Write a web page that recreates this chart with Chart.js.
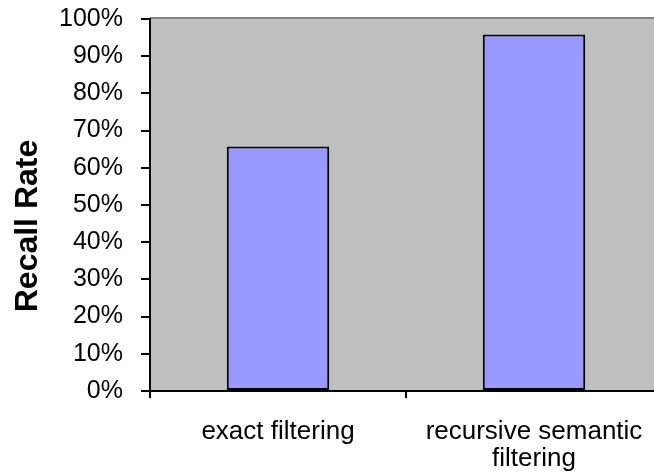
<!DOCTYPE html>
<html>
<head>
<meta charset="utf-8">
<script src="https://cdn.jsdelivr.net/npm/chart.js@4/dist/chart.umd.min.js"></script>
<style>
  html, body { margin: 0; padding: 0; background: #ffffff; overflow: hidden; }
  #wrap { position: absolute; left: 0; top: 0; width: 654px; height: 473px; overflow: hidden; }
  #c { display: block; }
</style>
</head>
<body>
<div id="wrap"><canvas id="c" width="670" height="473"></canvas></div>
<script>
// ---- data ----
const categories = [["exact filtering"], ["recursive semantic", "filtering"]];
const recallRate = [65.7, 95.8];
const yTicks = [0, 10, 20, 30, 40, 50, 60, 70, 80, 90, 100];
const yTitle = "Recall Rate";

const FONT = '"Liberation Sans", Arial, sans-serif';

const plotBg = {
  id: 'plotBg',
  beforeDraw(chart) {
    const { ctx, chartArea: a } = chart;
    ctx.save();
    ctx.fillStyle = '#c0c0c0';
    ctx.fillRect(a.left, a.top, a.right - a.left, a.bottom - a.top);
    ctx.strokeStyle = '#868686';
    ctx.lineWidth = 2;
    ctx.beginPath();
    ctx.moveTo(a.left, a.top - 1);
    ctx.lineTo(a.right, a.top - 1);
    ctx.stroke();
    ctx.restore();
  }
};

const yTitlePlugin = {
  id: 'yTitlePlugin',
  afterDraw(chart) {
    const { ctx } = chart;
    ctx.save();
    ctx.translate(37, 226);
    ctx.rotate(-Math.PI / 2);
    ctx.font = 'bold 32px ' + FONT;
    ctx.fillStyle = '#000000';
    ctx.textAlign = 'center';
    ctx.textBaseline = 'alphabetic';
    ctx.fillText(yTitle, 0, 0);
    ctx.restore();
  }
};

new Chart(document.getElementById('c'), {
  type: 'bar',
  data: {
    labels: categories,
    datasets: [{
      data: recallRate,
      backgroundColor: '#9999ff',
      borderColor: '#000000',
      borderWidth: 2,
      borderSkipped: false,
      categoryPercentage: 1.0,
      barPercentage: 0.4
    }]
  },
  options: {
    responsive: false,
    animation: false,
    devicePixelRatio: 1,
    layout: { padding: { top: 19, right: 8, left: 0, bottom: 0 } },
    plugins: { legend: { display: false }, tooltip: { enabled: false } },
    scales: {
      x: {
        offset: true,
        grid: { offset: true, drawOnChartArea: false, drawTicks: true, tickLength: 7, color: '#000000', lineWidth: 2 },
        border: { display: true, color: '#000000', width: 2 },
        ticks: {
          font: { family: FONT, size: 26, lineHeight: 1.02 },
          color: '#000000',
          padding: 21,
          maxRotation: 0,
          autoSkip: false
        },
        afterFit(scale) { scale.height = 82; scale.paddingLeft = 0; scale.paddingRight = 0; }
      },
      y: {
        min: 0,
        max: 100,
        afterBuildTicks(scale) { scale.ticks = yTicks.map(v => ({ value: v })); },
        grid: { drawOnChartArea: false, drawTicks: true, tickLength: 9, color: '#000000', lineWidth: 2 },
        border: { display: true, color: '#000000', width: 2 },
        ticks: {
          font: { family: FONT, size: 25 },
          color: '#000000',
          padding: 18,
          callback: v => v + '%'
        },
        afterFit(scale) { scale.width = 150; scale.paddingTop = 0; scale.paddingBottom = 0; }
      }
    }
  },
  plugins: [plotBg, yTitlePlugin]
});
</script>
</body>
</html>
